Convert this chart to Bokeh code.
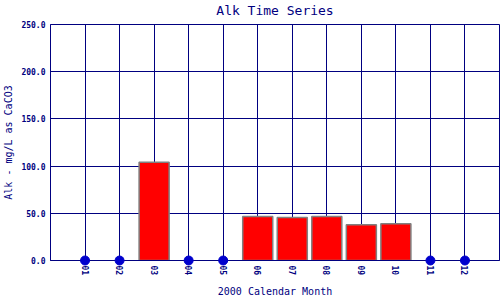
from bokeh.plotting import figure
from bokeh.models import FixedTicker, NumeralTickFormatter, Range1d
from bokeh.embed import file_html
from bokeh.resources import INLINE

title_text = "Alk Time Series"
months = ["01", "02", "03", "04", "05", "06", "07", "08", "09", "10", "11", "12"]
alk = [None, None, 104.0, None, None, 46.5, 45.5, 46.5, 38.0, 39.0, None, None]
y_ticks = [0, 50, 100, 150, 200, 250]

NAVY = "#000080"
FONT = "DejaVu Sans Mono"

xs = list(range(1, len(months) + 1))
bar_x = [x for x, v in zip(xs, alk) if v is not None]
bar_top = [v for v in alk if v is not None]
miss_x = [x for x, v in zip(xs, alk) if v is None]
miss_y = [0 for _ in miss_x]

p = figure(width=500, height=300, output_backend="svg", toolbar_location=None,
           x_range=Range1d(0, len(months) + 1), y_range=Range1d(0, y_ticks[-1]),
           title=title_text,
           min_border_left=50, min_border_right=1, min_border_top=24, min_border_bottom=40)

p.title.align = "center"
p.title.text_font = FONT
p.title.text_font_style = "normal"
p.title.text_font_size = "13px"
p.title.text_line_height = 1.0
p.title.text_color = NAVY
p.title.offset = -4
p.title.standoff = 0
p.title.padding = dict(left=0, right=0, top=0, bottom=7)

p.background_fill_color = "white"
p.border_fill_color = "white"
p.outline_line_color = NAVY
p.outline_line_width = 1

p.vbar(x=bar_x, top=bar_top, width=0.87, bottom=0,
       fill_color="red", line_color="gray", line_width=1.5)
p.scatter(x=miss_x, y=miss_y, size=9, fill_color="mediumblue", line_color="mediumblue",
          level="overlay")

p.xaxis.ticker = FixedTicker(ticks=xs)
p.xaxis.major_label_overrides = {x: m for x, m in zip(xs, months)}
p.xaxis.major_label_orientation = "vertical"
p.yaxis.ticker = FixedTicker(ticks=y_ticks)
p.yaxis.formatter = NumeralTickFormatter(format="0.0")

for ax in (p.xaxis, p.yaxis):
    ax.axis_line_color = NAVY
    ax.axis_line_width = 1
    ax.major_tick_line_color = None
    ax.minor_tick_line_color = None
    ax.major_tick_out = 0
    ax.major_tick_in = 0
    ax.major_label_text_font = FONT
    ax.major_label_text_font_style = "bold"
    ax.major_label_text_font_size = "8px"
    ax.major_label_text_color = NAVY
    ax.axis_label_text_font = FONT
    ax.axis_label_text_font_style = "normal"
    ax.axis_label_text_font_size = "10px"
    ax.axis_label_text_line_height = 1.0
    ax.axis_label_text_color = NAVY

p.xaxis.axis_label = "2000 Calendar Month"
p.yaxis.axis_label = "Alk - mg/L as CaCO3"
p.xaxis.major_label_standoff = 5
p.yaxis.major_label_standoff = 5
p.xaxis.axis_label_standoff = 8
p.yaxis.axis_label_standoff = 4

p.grid.grid_line_color = NAVY
p.grid.grid_line_width = 1
p.grid.grid_line_alpha = 1.0

open("out.html", "w").write(file_html(p, INLINE))
